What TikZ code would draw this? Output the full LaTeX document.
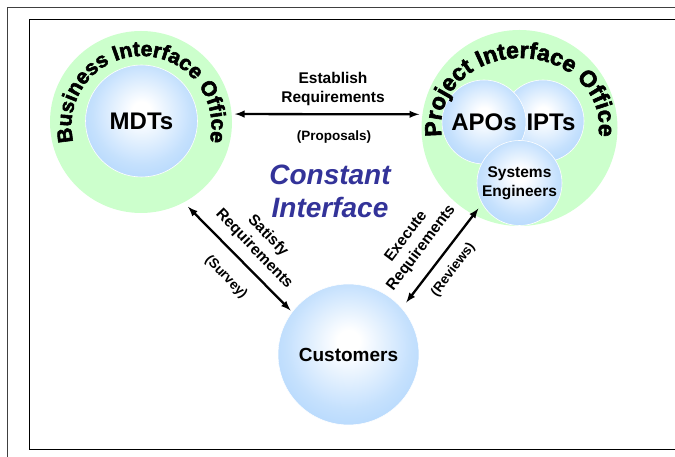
\documentclass[tikz,border=0pt]{standalone}
\usepackage{fontspec}
\setmainfont{Liberation Sans}
\newfontfamily\arcfont{Liberation Sans}[BoldFeatures={FakeBold=2.6}]
\usepackage{tikz}
\usepackage{xcolor}
\usetikzlibrary{arrows,decorations.text}

\definecolor{ringgreen}{RGB}{204,255,204}
\definecolor{ballblue}{RGB}{150,200,252}
\definecolor{titleblue}{RGB}{51,51,153}

% sombreado de las esferas
\pgfdeclareradialshading{ballshade}{\pgfpoint{0bp}{5bp}}{%
  color(0bp)=(white); color(4bp)=(white);
  color(22bp)=(ballblue!55!white); color(40bp)=(ballblue!92!white);
  color(50bp)=(ballblue)}

\tikzset{
  ring/.style={circle, fill=ringgreen, minimum size=#1, inner sep=0pt},
  ball/.style={circle, draw=white, line width=0.6pt, shading=ballshade,
    minimum size=#1, inner sep=0pt, font=\bfseries\fontsize{24}{28}\selectfont},
  lbl/.style={align=center, font=\bfseries\fontsize{15.5}{19}\selectfont},
  sublbl/.style={font=\bfseries\fontsize{13.5}{16}\selectfont},
  dblarrow/.style={<->, >=latex, line width=2.3pt, shorten <=3pt, shorten >=3pt}
}

\begin{document}
\begin{tikzpicture}[x=1pt, y=1pt]
            \useasboundingbox (0,0) rectangle (675,457);

            % Marcos
            \draw[line width=1.8pt, black!75] (7.5,-20) rectangle (700,449.5);
            \draw[line width=1.8pt] (29.5,7.5) rectangle (700,437.5);

            % Oficinas
            \node[ring=182pt] (bio) at (141,335) {};
            \node[ring=196pt] (pio) at (519.5,329) {};

            % Esferas
            \node[ball=112pt] (mdts) at (141.5,336) {MDTs};
            \node[ball=82pt] (ipts) at (543,336) {};
            \node[ball=84pt] (apos) at (484,335) {APOs};
            \node[font=\bfseries\fontsize{24}{28}\selectfont] (iptslbl) at (551,335) {IPTs};
            \node[ball=85pt, align=center, font=\bfseries\fontsize{15.5}{18.5}\selectfont] (syseng) at (519.5,274) {Systems\\Engineers};
            \node[ball=141pt, font=\bfseries\fontsize{19}{22}\selectfont] (cust) at (348.5,102.5) {Customers};

            % Texto curvo
            \path[decorate, decoration={text along path, text align=center,
                text={|\arcfont\bfseries\fontsize{21}{24}\selectfont|Business Interface Office}}]
                (141.5,331) ++(200:70) arc[start angle=200, end angle=-20, radius=70];
            \path[decorate, decoration={text along path, text align=center,
                text={|\arcfont\bfseries\fontsize{23}{26}\selectfont|Project Interface Office}}]
                (520,331) ++(200:79 and 68) arc[start angle=200, end angle=-20, x radius=79, y radius=68];

            % Flechas
            \draw[dblarrow] (bio.5) -- (pio.172);
            \draw[dblarrow, shorten <=6pt, shorten >=2pt] (bio.-62) -- (cust.143);
            \draw[dblarrow, shorten <=6pt, shorten >=7pt] (syseng.209) -- (cust.41);

            % Etiquetas
            \node[lbl] (estlbl) at (333,367.5) {Establish\\Requirements};
            \node[sublbl] (proplbl) at (334,320) {(Proposals)};
            \node[align=center, text=titleblue, font=\bfseries\itshape\fontsize{28}{33}\selectfont] (constlbl) at (330,265.5) {Constant\\Interface};
            \node[lbl, rotate=-46] (satlbl) at (261,214.5) {Satisfy\\Requirements};
            \node[sublbl, rotate=-46] (survlbl) at (226,179.7) {(Survey)};
            \node[lbl, rotate=53] (execlbl) at (414,214.5) {Execute\\Requirements};
            \node[sublbl, rotate=53] (revlbl) at (453.3,187) {(Reviews)};
\end{tikzpicture}
\end{document}
